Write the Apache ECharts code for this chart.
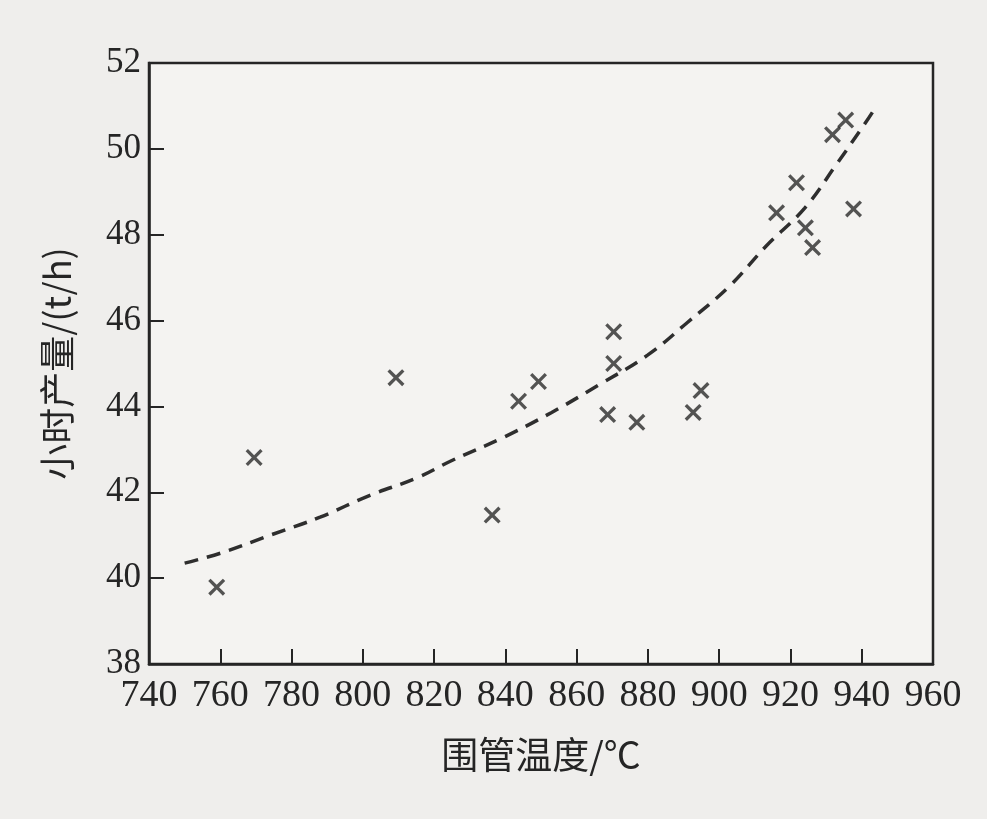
<!DOCTYPE html>
<html>
<head>
<meta charset="utf-8">
<style>
html,body{margin:0;padding:0;background:#efeeec;}
#c{width:987px;height:819px;}
</style>
<script src="https://cdn.jsdelivr.net/npm/echarts@6/dist/echarts.min.js"></script>
</head>
<body>
<div id="c"></div>
<script>
// scatter data (温度, 小时产量)
const tempX = [759, 769.5, 809.3, 836.3, 843.7, 849.3, 868.7, 870.4, 870.4, 876.9, 892.7, 894.9, 916.1, 921.7, 924.2, 926.2, 931.8, 935.5, 937.7];
const outputY = [39.79, 42.81, 44.67, 41.47, 44.12, 44.58, 43.81, 45.74, 45.0, 43.63, 43.86, 44.37, 48.51, 49.21, 48.16, 47.7, 50.33, 50.67, 48.6];
// dashed fitted curve
const fitX = [750, 760, 774, 788, 802, 815, 825, 839, 853, 866, 880, 891, 903, 913, 924, 933, 941, 943];
const fitY = [40.35, 40.58, 41.0, 41.42, 41.93, 42.33, 42.74, 43.26, 43.86, 44.49, 45.2, 45.95, 46.81, 47.72, 48.62, 49.65, 50.6, 50.85];
const xTicks = [740, 960, 20];
const yTicks = [38, 52, 2];

const scatterData = tempX.map((x, i) => [x, outputY[i]]);
const fitData = fitX.map((x, i) => [x, fitY[i]]);

const ink = '#252525';
const chart = echarts.init(document.getElementById('c'), null, {renderer: 'canvas'});
chart.setOption({
  backgroundColor: '#efeeec',
  animation: false,
  grid: {left: 149, top: 63, right: 54, bottom: 155, show: true, borderColor: ink, borderWidth: 2.5, backgroundColor: '#f4f3f1'},
  xAxis: {
    type: 'value', min: xTicks[0], max: xTicks[1], interval: xTicks[2],
    name: '围管温度/℃', nameLocation: 'middle', nameGap: 72,
    nameTextStyle: {fontFamily: 'Noto Sans CJK SC', fontSize: 37, color: ink},
    axisLine: {show: true, lineStyle: {color: ink, width: 2.5}},
    axisTick: {show: true, inside: true, length: 15, lineStyle: {color: ink, width: 2}},
    axisLabel: {fontFamily: 'Liberation Serif', fontSize: 38, color: ink, margin: 13},
    splitLine: {show: false}
  },
  yAxis: {
    type: 'value', min: yTicks[0], max: yTicks[1], interval: yTicks[2],
    name: '小时产量/(t/h)', nameLocation: 'middle', nameGap: 74, nameRotate: 90,
    nameTextStyle: {fontFamily: 'Noto Sans CJK SC', fontSize: 36, color: ink},
    axisLine: {show: true, lineStyle: {color: ink, width: 2.5}},
    axisTick: {show: true, inside: true, length: 15, lineStyle: {color: ink, width: 2}},
    axisLabel: {fontFamily: 'Liberation Serif', fontSize: 35, color: ink, margin: 8},
    splitLine: {show: false}
  },
  series: [
    {
      type: 'line', data: fitData, smooth: 0.4, showSymbol: false, symbol: 'none',
      lineStyle: {color: '#2e2e2e', width: 3.5, type: [14, 9]}, z: 2
    },
    {
      type: 'scatter', data: scatterData, symbolSize: 17,
      symbol: 'path://M0,2.2 L2.2,0 L8,5.8 L13.8,0 L16,2.2 L10.2,8 L16,13.8 L13.8,16 L8,10.2 L2.2,16 L0,13.8 L5.8,8 Z',
      itemStyle: {color: '#2b2b2b'}, z: 3
    }
  ]
});
</script>
</body>
</html>
